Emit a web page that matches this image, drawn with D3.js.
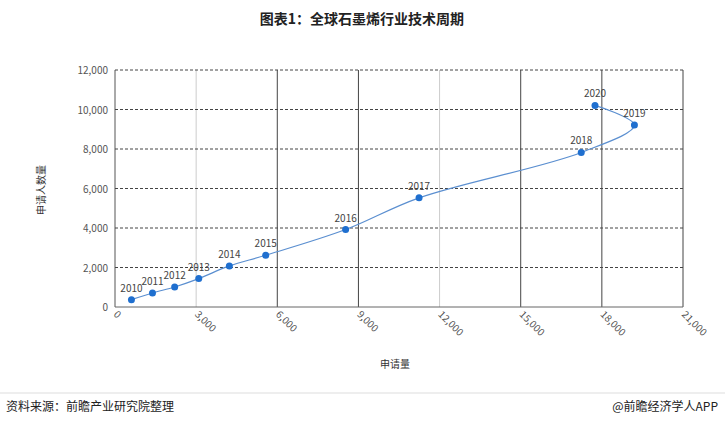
<!DOCTYPE html><html><head><meta charset="utf-8"><script src="https://d3js.org/d3.v7.min.js"></script>
<style>body{margin:0;background:#fff}text{font-family:"Noto Sans CJK SC","Noto Sans",sans-serif}</style></head><body><svg id="c" width="725" height="423"></svg><script>
const years=["2010","2011","2012","2013","2014","2015","2016","2017","2018","2019","2020"];
const applications=[608,1386,2206,3097,4228,5572,8527,11242,17238,19204,17747];
const applicants=[372,710,1014,1437,2079,2620,3921,5527,7825,9211,10208];
const xTicks=[0,3000,6000,9000,12000,15000,18000,21000];
const yTicks=[0,2000,4000,6000,8000,10000,12000];
const svg=d3.select("#c");
const x=d3.scaleLinear().domain([0,21000]).range([115,683]);
const y=d3.scaleLinear().domain([0,12000]).range([307,70]);
svg.append("text").attr("x",362).attr("y",24).attr("text-anchor","middle").attr("font-size",14).attr("font-weight","bold").attr("fill","#222").text("图表1：全球石墨烯行业技术周期");
const lightX=new Set([3000,12000]);
xTicks.forEach(v=>{svg.append("line").attr("x1",x(v)).attr("x2",x(v)).attr("y1",y(12000)).attr("y2",y(0)).attr("stroke",v===0?"#555":lightX.has(v)?"#ccc":"#444").attr("stroke-width",1);
 svg.append("text").attr("transform",`translate(${x(v)-2},${y(0)+8}) rotate(45)`).attr("font-size",10).attr("fill","#555").text(d3.format(",")(v));});
yTicks.forEach(v=>{svg.append("line").attr("x1",x(0)).attr("x2",x(21000)).attr("y1",y(v)).attr("y2",y(v)).attr("stroke",v===0?"#666":"#444").attr("stroke-dasharray",v===0?null:"3,2");
 svg.append("text").attr("x",x(0)-7).attr("y",y(v)+4).attr("text-anchor","end").attr("font-size",10).attr("fill","#555").text(d3.format(",")(v));});
const pts=years.map((yr,i)=>({yr,a:applications[i],b:applicants[i]}));
svg.append("path").datum(pts).attr("fill","none").attr("stroke","#5b8fd0").attr("stroke-width",1.2)
 .attr("d",d3.line().x(d=>x(d.a)).y(d=>y(d.b)).curve(d3.curveCatmullRom.alpha(0.5)));
svg.selectAll("circle").data(pts).join("circle").attr("cx",d=>x(d.a)).attr("cy",d=>y(d.b)).attr("r",3.5).attr("fill","#1f6fcf");
svg.selectAll(".lb").data(pts).join("text").attr("x",d=>x(d.a)).attr("y",d=>y(d.b)-8).attr("text-anchor","middle").attr("font-size",10).attr("fill","#444").text(d=>d.yr);
svg.append("text").attr("transform","translate(45,190) rotate(-90)").attr("text-anchor","middle").attr("font-size",10).attr("fill","#333").text("申请人数量");
svg.append("text").attr("x",395).attr("y",368).attr("text-anchor","middle").attr("font-size",10).attr("fill","#333").text("申请量");
svg.append("line").attr("x1",0).attr("x2",725).attr("y1",393).attr("y2",393).attr("stroke","#ddd");
svg.append("text").attr("x",6).attr("y",411).attr("font-size",12).attr("fill","#222").text("资料来源：前瞻产业研究院整理");
svg.append("text").attr("x",718).attr("y",411).attr("text-anchor","end").attr("font-size",12).attr("fill","#222").text("@前瞻经济学人APP");
</script></body></html>
